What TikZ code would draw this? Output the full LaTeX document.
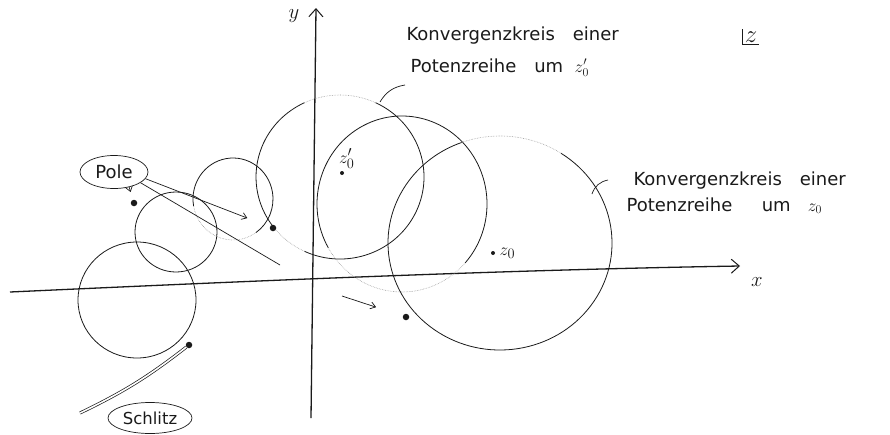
\documentclass[tikz,border=0pt]{standalone}
\usepackage{amsmath}
\usepackage{fontspec}
\setmainfont{DejaVu Sans}
\usetikzlibrary{arrows.meta,positioning,calc,shapes.geometric}
\definecolor{skink}{HTML}{1A1A1A}
\definecolor{skfaint}{HTML}{9A9A9A}
\tikzset{
  kreis/.style={draw=skink, line width=0.8pt},
  kreisfaint/.style={draw=skfaint, line width=0.6pt, densely dotted},
  achse/.style={line width=1.3pt, skink, -{Straight Barb[length=8pt,width=14pt,line width=1pt]}},
  pfeil/.style={line width=0.7pt, skink, -{Straight Barb[length=5pt,width=7pt]}},
  pol/.style={circle, fill=skink, inner sep=0pt, minimum size=6.5pt},
  punkt/.style={circle, fill=skink, inner sep=0pt, minimum size=4pt},
  tag/.style={draw=skink, ellipse, line width=0.7pt, inner sep=0.5pt},
  txt/.style={skink, font=\fontsize{18}{22}\selectfont},
  txtsmall/.style={skink, font=\fontsize{19}{22}\selectfont},
}

\begin{document}
\begin{tikzpicture}[x=1pt, y=-1pt]
  \useasboundingbox (0,0) rectangle (890,434);
  % axes
  \coordinate (xl) at (10,292);
  \coordinate (xr) at (740,266);
  \coordinate (yb) at (311,418);
  \coordinate (yt) at (316,8);
  \draw[achse] (xl) .. controls (250,281) and (500,270) .. (xr);
  \draw[achse] (yb) -- (yt);
  \node[skink, font=\fontsize{21}{24}\selectfont] (xlab) at (757,282) {$x$};
  \node[skink, font=\fontsize{21}{24}\selectfont] (ylab) at (294,16) {$y$};
  % z-plane tag
  \node[skink, font=\fontsize{24}{28}\selectfont, inner sep=2pt] (zpl) at (751,37) {$z$};
  \draw[line width=0.8pt, skink] (zpl.north west) |- (zpl.south east);

  % circles
  \coordinate (cP) at (340,177);
  \coordinate (cQ) at (402,204);
  \coordinate (cR) at (500,243);
  \draw[kreis] (137,300) ellipse[x radius=59, y radius=58];
  \draw[kreis] (176,232) ellipse[x radius=41, y radius=40];
  \draw[kreis] ($(233,199)+(170:40 and 41)$) arc[start angle=170, end angle=415, x radius=40, y radius=41];
  \draw[kreisfaint] ($(233,199)+(55:40 and 41)$) arc[start angle=55, end angle=170, x radius=40, y radius=41];
  % circle around z0'
  \draw[kreis] ($(cP)+(-65:84 and 82)$) arc[start angle=-65, end angle=115, x radius=84, y radius=82];
  \draw[kreisfaint] ($(cP)+(115:84 and 82)$) arc[start angle=115, end angle=142, x radius=84, y radius=82];
  \draw[kreis] ($(cP)+(142:84 and 82)$) arc[start angle=142, end angle=245, x radius=84, y radius=82];
  \draw[kreisfaint] ($(cP)+(245:84 and 82)$) arc[start angle=245, end angle=295, x radius=84, y radius=82];
  \draw[kreis] ($(cQ)+(150:85 and 88)$) arc[start angle=150, end angle=402, x radius=85, y radius=88];
  \draw[kreisfaint] ($(cQ)+(42:85 and 88)$) arc[start angle=42, end angle=150, x radius=85, y radius=88];
  % circle around z0
  \draw[kreis] ($(cR)+(-57:112 and 107)$) arc[start angle=-57, end angle=250, x radius=112, y radius=107];
  \draw[kreisfaint] ($(cR)+(250:112 and 107)$) arc[start angle=250, end angle=303, x radius=112, y radius=107];

  % centres
  \node[punkt] (z0s) at (342,173) {};
  \node[txtsmall, above right=-1pt and -8pt of z0s] (z0slab) {$z_0'$};
  \node[punkt] (z0) at (493,253) {};
  \node[txtsmall, right=1pt of z0] (z0lab) {$z_0$};

  % poles
  \node[pol] (p1) at (134,203) {};
  \node[pol] (p2) at (273,228) {};
  \node[pol] (p3) at (406,317) {};
  \node[tag, skink, font=\fontsize{18}{21}\selectfont, minimum width=68pt, minimum height=33pt] (pole) at (114,172) {Pole};
  \draw[pfeil, shorten >=8pt] (pole.-45) -- (p1);
  \draw[pfeil, shorten >=24pt] (pole.-12) -- (p2);
  \coordinate (g1) at (280,265);
  \coordinate (g2) at (342,296);
  \draw[line width=0.7pt, skink] (pole.-22) -- (g1);
  \draw[pfeil, shorten >=28pt] (g2) -- (p3);

  % branch cut
  \node[pol] (bp) at (189,345) {};
  \coordinate (se) at (80,413);
  \draw[skink, line width=0.7pt, double=white, double distance=1.6pt] (bp) to[bend left=6] (se);
  \node[tag, skink, font=\fontsize{16.5}{19}\selectfont, minimum width=84pt, minimum height=31pt] (schlitz) at (150,418) {Schlitz};

  % labels
  \node[txt, anchor=base west] (labA) at (403,40) {Konvergenzkreis\quad einer};
  \node[txt, anchor=base west] (labAb) at (407,72) {Potenzreihe\quad um\ \ $z_0'$};
  \coordinate (lA) at (405,85);
  \coordinate (onP) at (380,102);
  \draw[line width=0.7pt, skink] (lA) to[bend right=25] (onP);
  \node[txt, anchor=base west] (labB) at (630,185) {Konvergenzkreis\quad einer};
  \node[txt, anchor=base west] (labBb) at (623,211) {Potenzreihe\quad\ \ um\ \ \ $z_0$};
  \coordinate (lB) at (608,180);
  \coordinate (onR) at (592,194);
  \draw[line width=0.7pt, skink] (lB) to[bend right=30] (onR);
\end{tikzpicture}
\end{document}
